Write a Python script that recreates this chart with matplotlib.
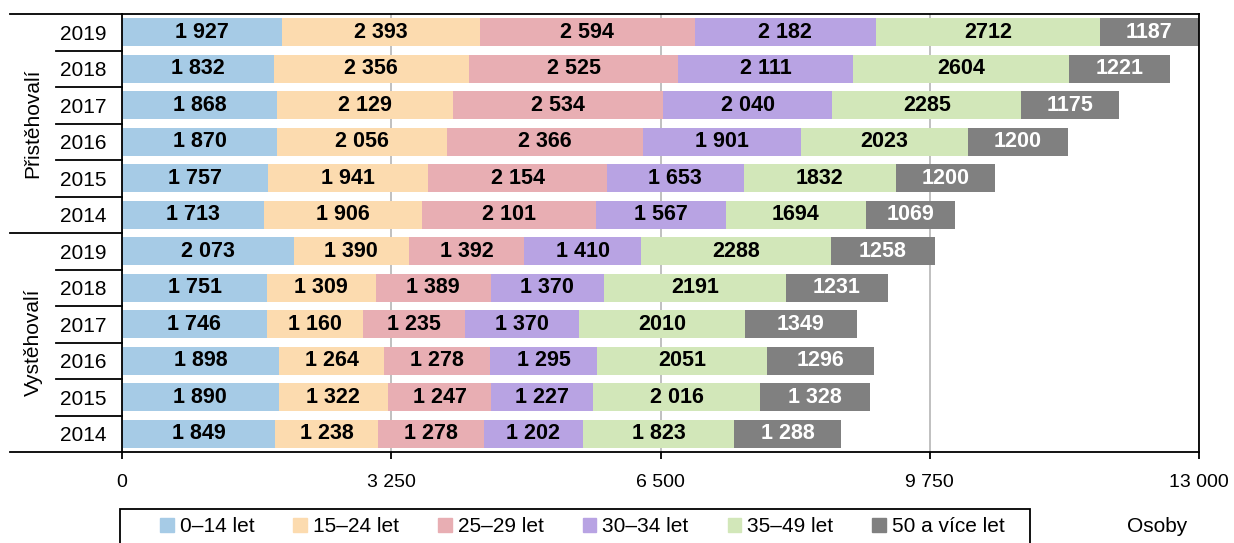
import matplotlib.pyplot as plt
from matplotlib.lines import Line2D
from matplotlib.patches import Rectangle

plt.rcParams['font.family'] = ['Liberation Sans', 'DejaVu Sans']

groups = ['Přistěhovalí', 'Vystěhovalí']
years = ['2019', '2018', '2017', '2016', '2015', '2014']
categories = ['0–14 let', '15–24 let', '25–29 let', '30–34 let', '35–49 let', '50 a více let']

# rows top to bottom: Přistěhovalí 2019..2014, Vystěhovalí 2019..2014
v0_14 = [1927, 1832, 1868, 1870, 1757, 1713, 2073, 1751, 1746, 1898, 1890, 1849]
v15_24 = [2393, 2356, 2129, 2056, 1941, 1906, 1390, 1309, 1160, 1264, 1322, 1238]
v25_29 = [2594, 2525, 2534, 2366, 2154, 2101, 1392, 1389, 1235, 1278, 1247, 1278]
v30_34 = [2182, 2111, 2040, 1901, 1653, 1567, 1410, 1370, 1370, 1295, 1227, 1202]
v35_49 = [2712, 2604, 2285, 2023, 1832, 1694, 2288, 2191, 2010, 2051, 2016, 1823]
v50 = [1187, 1221, 1175, 1200, 1200, 1069, 1258, 1231, 1349, 1296, 1328, 1288]
series = [v0_14, v15_24, v25_29, v30_34, v35_49, v50]

# labels as printed in the source (some without thousands separator)
lab35_49 = ['2712', '2604', '2285', '2023', '1832', '1694',
            '2288', '2191', '2010', '2051', '2 016', '1 823']
lab50 = ['1187', '1221', '1175', '1200', '1200', '1069',
         '1258', '1231', '1349', '1296', '1 328', '1 288']

colors = ['#A6CBE6', '#FCDBAF', '#E8AEB3', '#B8A3E3', '#D2E7B9', '#808080']
xticks = [0, 3250, 6500, 9750, 13000]


def fmt(v):
    return f'{v:,}'.replace(',', ' ')


fig = plt.figure(figsize=(12.34, 5.43), dpi=100)
ax = fig.add_axes([122 / 1234, 1 - 452 / 543, 1077 / 1234, 438 / 543])

rows = list(range(len(v0_14)))
left = [0] * len(rows)
for i, (vals, col) in enumerate(zip(series, colors)):
    bars = ax.barh(rows, vals, left=left, height=0.77, color=col, zorder=2)
    if i == 4:
        labels = lab35_49
    elif i == 5:
        labels = lab50
    else:
        labels = [fmt(v) for v in vals]
    ax.bar_label(bars, labels=labels, label_type='center', fontsize=15.5,
                 fontweight='bold', color='white' if i == 5 else 'black')
    left = [a + b for a, b in zip(left, vals)]

ax.set_xlim(0, 13000)
ax.set_ylim(len(rows) - 0.5, -0.5)
ax.set_xticks(xticks)
ax.set_xticklabels([fmt(t) for t in xticks], fontsize=14)
ax.tick_params(axis='x', length=5, width=1.3, pad=11)
ax.set_yticks(rows)
ax.set_yticklabels(years * 2, fontsize=15)
ax.tick_params(axis='y', length=0, pad=11)
ax.grid(axis='x', color='#BBBBBB', linewidth=1.3, zorder=0)
for s in ax.spines.values():
    s.set_linewidth(1.3)

# category separators on the left
trans = ax.get_yaxis_transform()
x_in = (56 - 122) / 1077
x_out = (10 - 122) / 1077
for b in range(len(rows) + 1):
    yb = b - 0.5
    x0 = x_out if b in (0, 6, 12) else x_in
    ax.add_line(Line2D([x0, 0], [yb, yb], transform=trans, color='black',
                       linewidth=1.3, clip_on=False))

for g, name in enumerate(groups):
    ax.text((33 - 122) / 1077, 2.5 + 6 * g, name, transform=trans,
            rotation=90, ha='center', va='center', fontsize=15)

# legend: entries without frame, frame drawn separately (cut by figure bottom)
handles = [plt.Rectangle((0, 0), 1, 1, color=c) for c in colors]
leg = fig.legend(handles, categories, ncol=6, loc='center left',
                 bbox_to_anchor=(160 / 1234, 1 - 527 / 543, 845 / 1234, 0.0),
                 mode='expand', fontsize=15, frameon=False,
                 handlelength=0.65, handleheight=0.65, handletextpad=0.3,
                 borderpad=0, columnspacing=0.5, borderaxespad=0)
fig.patches.append(Rectangle((120 / 1234, -0.05), 910 / 1234, 0.05 + (543 - 509) / 543,
                             transform=fig.transFigure, fill=False,
                             edgecolor='black', linewidth=1.3))

fig.text(1157 / 1234, 1 - 527 / 543, 'Osoby', ha='center', va='center', fontsize=15)

fig.savefig('out.png', dpi=100)
